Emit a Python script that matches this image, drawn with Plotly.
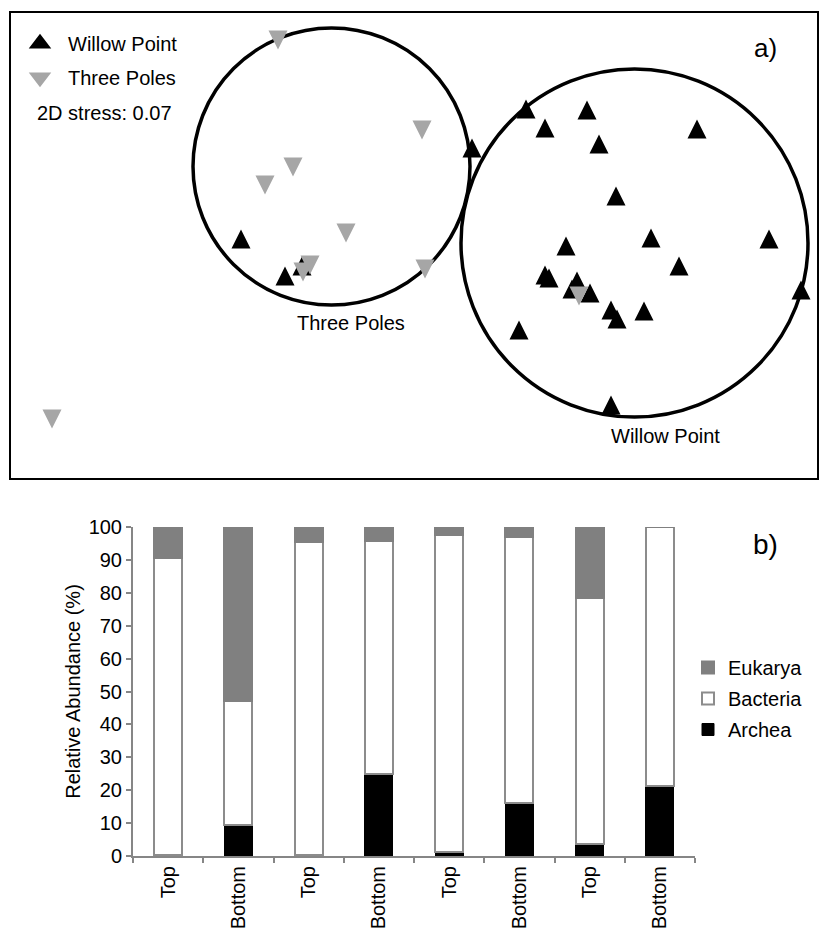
import plotly.graph_objects as go

W, H = 819, 931
FONT = "Liberation Sans, Arial, sans-serif"

# ---------------- panel a) NMDS data ----------------
wp_x = [0.290, 0.560, 0.865, 0.655, 1.415, 0.925, 1.010, 0.760, 1.185, 1.775,
        1.325, 0.655, 0.675, 0.815, 0.790, 0.880, 0.985, 1.015, 1.150, 0.525,
        0.985, 1.935, -0.865, -0.645, -0.560]
wp_y = [0.488, 0.683, 0.678, 0.588, 0.583, 0.508, 0.248, -0.003, 0.038, 0.033,
        -0.103, -0.148, -0.163, -0.178, -0.218, -0.238, -0.323, -0.368, -0.328, -0.423,
        -0.798, -0.223, 0.033, -0.153, -0.103]

tp_x = [-0.680, 0.040, -0.605, -0.745, -0.340, 0.055, -0.520, -0.555, -1.810, 0.825]
tp_y = [1.028, 0.578, 0.393, 0.303, 0.063, -0.118, -0.098, -0.133, -0.868, -0.253]

# group ellipses: (x0, y0, x1, y1)
circle_names = ["Three Poles", "Willow Point"]
circle_x0 = [-1.105, 0.235]
circle_x1 = [0.280, 1.970]
circle_y0 = [-0.2975, -0.8575]
circle_y1 = [1.0875, 0.8825]

# ---------------- panel b) relative abundance ----------------
sample_ids = ["s1", "s2", "s3", "s4", "s5", "s6", "s7", "s8"]
sample_labels = ["Top", "Bottom", "Top", "Bottom", "Top", "Bottom", "Top", "Bottom"]
archea = [0.3, 9.5, 0.2, 25.0, 1.3, 16.2, 3.6, 21.3]
bacteria = [90.2, 37.6, 95.1, 70.7, 96.3, 80.9, 74.9, 78.7]
eukarya = [9.5, 52.9, 4.7, 4.3, 2.4, 2.9, 21.5, 0.0]

# ---------------- geometry ----------------
xa_dom = [11 / W, 817 / W]
ya_dom = [1 - 478 / H, 1 - 13 / H]
xa_rng = [-2.015, 2.015]
ya_rng = [-1.1625, 1.1625]
MS = 19  # marker size (px)
ppu_y = (ya_dom[1] - ya_dom[0]) * H / (ya_rng[1] - ya_rng[0])
off = (MS / 2) / ppu_y  # arrow symbols are anchored at their tip

BLACK = "#000000"
GREY_PT = "#a6a6a6"

fig = go.Figure()

# data markers (arrow symbols: tip anchored, shift so the triangle is centred on the point)
fig.add_trace(go.Scatter(
    x=wp_x, y=[v + off for v in wp_y], mode="markers", xaxis="x", yaxis="y",
    marker=dict(symbol="arrow-up", size=MS, color=BLACK, line=dict(width=0)),
    showlegend=False, hoverinfo="skip"))
fig.add_trace(go.Scatter(
    x=tp_x, y=[v - off for v in tp_y], mode="markers", xaxis="x", yaxis="y",
    marker=dict(symbol="arrow-down", size=MS, color=GREY_PT, line=dict(width=0)),
    showlegend=False, hoverinfo="skip"))

# legend entries for panel a
fig.add_trace(go.Scatter(
    x=[None], y=[None], mode="markers", name="Willow Point", xaxis="x", yaxis="y",
    marker=dict(symbol="triangle-up", size=16, color=BLACK, line=dict(width=2, color=BLACK)),
    legend="legend", legendgroup="wp", legendrank=1))
fig.add_trace(go.Scatter(
    x=[None], y=[None], mode="markers", name="Three Poles", xaxis="x", yaxis="y",
    marker=dict(symbol="triangle-down", size=16, color=GREY_PT, line=dict(width=2, color=GREY_PT)),
    legend="legend", legendgroup="tp", legendrank=2))

# bars
BAR_W = 0.4
fig.add_trace(go.Bar(
    x=sample_ids, y=archea, name="Archea", xaxis="x2", yaxis="y2", width=BAR_W,
    marker=dict(color=BLACK, line=dict(color=BLACK, width=1)),
    legend="legend2", legendgroup="ar", legendrank=3))
fig.add_trace(go.Bar(
    x=sample_ids, y=bacteria, name="Bacteria", xaxis="x2", yaxis="y2", width=BAR_W,
    marker=dict(color="#ffffff", line=dict(color="#8c8c8c", width=2)),
    legend="legend2", legendgroup="ba", legendrank=2))
fig.add_trace(go.Bar(
    x=sample_ids, y=eukarya, name="Eukarya", xaxis="x2", yaxis="y2", width=BAR_W,
    marker=dict(color="#808080", line=dict(color="#808080", width=2)),
    legend="legend2", legendgroup="eu", legendrank=1))

shapes = []
for i in range(len(circle_names)):
    shapes.append(dict(type="circle", xref="x", yref="y",
                       x0=circle_x0[i], x1=circle_x1[i], y0=circle_y0[i], y1=circle_y1[i],
                       line=dict(color=BLACK, width=3.5), layer="below"))

def px(xp, yp):
    return xp / W, 1 - yp / H

annotations = []
ax, ay = px(35, 113)
annotations.append(dict(text="2D stress: 0.07", x=ax, y=ay, xref="paper", yref="paper",
                        xanchor="left", yanchor="middle", showarrow=False,
                        font=dict(size=20, family=FONT, color=BLACK)))
ax, ay = px(765, 48)
annotations.append(dict(text="a)", x=ax, y=ay, xref="paper", yref="paper",
                        xanchor="center", yanchor="middle", showarrow=False,
                        font=dict(size=26, family=FONT, color=BLACK)))
ax, ay = px(765, 544)
annotations.append(dict(text="b)", x=ax, y=ay, xref="paper", yref="paper",
                        xanchor="center", yanchor="middle", showarrow=False,
                        font=dict(size=28, family=FONT, color=BLACK)))
ax, ay = px(351, 323)
annotations.append(dict(text="Three Poles", x=ax, y=ay, xref="paper", yref="paper",
                        xanchor="center", yanchor="middle", showarrow=False,
                        font=dict(size=20, family=FONT, color=BLACK)))
ax, ay = px(665, 436)
annotations.append(dict(text="Willow Point", x=ax, y=ay, xref="paper", yref="paper",
                        xanchor="center", yanchor="middle", showarrow=False,
                        font=dict(size=20, family=FONT, color=BLACK)))

AXC = "#868686"
lx1, ly1 = px(12, 24)
lx2, ly2 = px(688, 648)
fig.update_layout(
    width=W, height=H, autosize=False,
    margin=dict(l=0, r=0, t=0, b=0, pad=0, autoexpand=False),
    paper_bgcolor="white", plot_bgcolor="white",
    font=dict(family=FONT, size=20, color=BLACK),
    barmode="stack", bargap=0.5,
    shapes=shapes, annotations=annotations,
    xaxis=dict(domain=xa_dom, range=xa_rng, showgrid=False, zeroline=False,
               showticklabels=False, ticks="", showline=True, linecolor=BLACK,
               linewidth=2, mirror=True, fixedrange=True, automargin=False),
    yaxis=dict(domain=ya_dom, range=ya_rng, showgrid=False, zeroline=False,
               showticklabels=False, ticks="", showline=True, linecolor=BLACK,
               linewidth=2, mirror=True, fixedrange=True, automargin=False),
    xaxis2=dict(domain=[133 / W, 695 / W], anchor="y2", type="category",
                categoryorder="array", categoryarray=sample_ids,
                tickmode="array", tickvals=sample_ids, ticktext=sample_labels,
                range=[-0.5, len(sample_ids) - 0.5], tickson="boundaries",
                ticks="outside", ticklen=5, tickwidth=2, tickcolor=AXC,
                showline=True, linecolor=AXC, linewidth=2, showgrid=False,
                tickangle=-90, automargin=False, fixedrange=True,
                tickfont=dict(size=20, family=FONT, color=BLACK)),
    yaxis2=dict(domain=[1 - 856 / H, 1 - 527 / H], anchor="x2", range=[0, 100],
                dtick=10, ticks="outside", ticklen=5, tickwidth=2, tickcolor=AXC,
                showline=True, linecolor=AXC, linewidth=2, showgrid=False, zeroline=False,
                automargin=False, fixedrange=True,
                tickfont=dict(size=20, family=FONT, color=BLACK),
                title=dict(text="Relative Abundance (%)", standoff=3,
                           font=dict(size=20, family=FONT, color=BLACK))),
    legend=dict(x=lx1, y=ly1, xanchor="left", yanchor="top", bgcolor="rgba(0,0,0,0)",
                font=dict(size=20, family=FONT, color=BLACK), itemwidth=46,
                tracegroupgap=5, traceorder="grouped"),
    legend2=dict(x=lx2, y=ly2, xanchor="left", yanchor="top", bgcolor="rgba(0,0,0,0)",
                 font=dict(size=20, family=FONT, color=BLACK), itemwidth=30,
                 tracegroupgap=2, traceorder="grouped"),
)

fig.write_html(
    "out.html",
    config={"displayModeBar": False},
    post_script="document.body.style.margin='0';document.body.style.padding='0';"
                "document.documentElement.style.overflow='hidden';",
)
